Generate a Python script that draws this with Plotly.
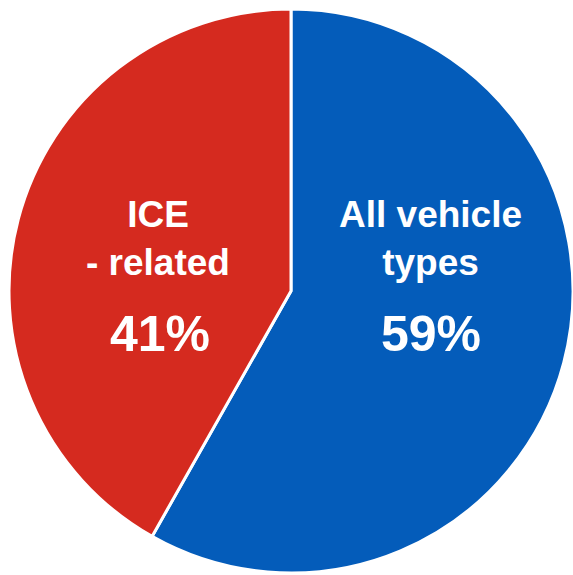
import plotly.graph_objects as go

# Data
labels = ["All vehicle<br>types", "ICE<br>- related"]
values = [58.2, 41.8]
pct_labels = ["59%", "41%"]
colors = ["#045CBA", "#D52A1F"]

W, H = 573, 575

fig = go.Figure(
    go.Pie(
        labels=labels,
        values=values,
        sort=False,
        direction="clockwise",
        rotation=0,
        marker=dict(colors=colors, line=dict(color="white", width=3)),
        textinfo="none",
        hoverinfo="label",
        showlegend=False,
        domain=dict(x=[9 / W, 1.0], y=[1 - 573 / H, 1 - 9 / H]),
    )
)

# label placement (pixel centres) -> paper coordinates
name_pos = [(430, 238), (158, 238)]
pct_pos = [(431, 334), (160, 334)]
annotations = []
for lab, pct, (nx, ny), (px, py) in zip(labels, pct_labels, name_pos, pct_pos):
    annotations.append(dict(
        text="<b>%s</b>" % lab, x=nx / W, y=1 - ny / H, xref="paper", yref="paper",
        showarrow=False, xanchor="center", yanchor="middle",
        font=dict(family="Liberation Sans, Arial, sans-serif", size=37, color="white"),
    ))
    annotations.append(dict(
        text="<b>%s</b>" % pct, x=px / W, y=1 - py / H, xref="paper", yref="paper",
        showarrow=False, xanchor="center", yanchor="middle",
        font=dict(family="Liberation Sans, Arial, sans-serif", size=50, color="white"),
    ))

fig.update_layout(
    width=W, height=H,
    margin=dict(l=0, r=0, t=0, b=0),
    paper_bgcolor="white",
    plot_bgcolor="white",
    annotations=annotations,
)

fig.write_html(
    "out.html",
    config={"displayModeBar": False},
    post_script="document.body.style.margin='0';document.body.style.overflow='hidden';",
)
